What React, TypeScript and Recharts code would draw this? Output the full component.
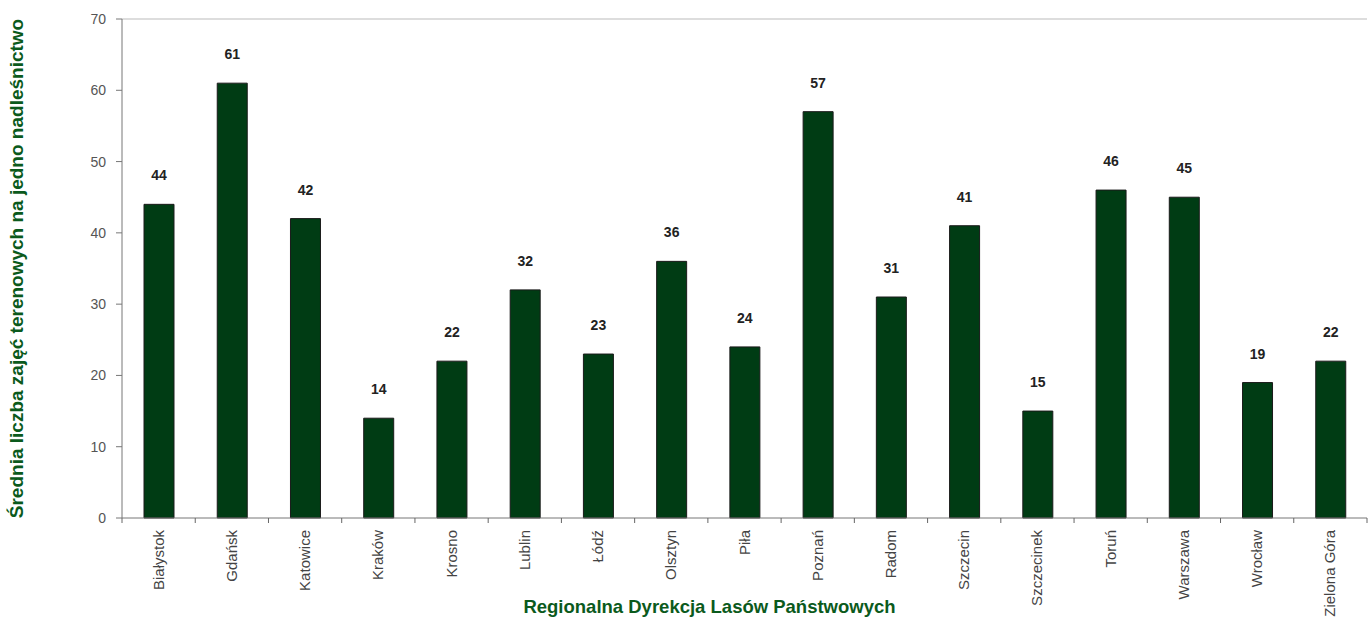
import { BarChart, Bar, XAxis, YAxis, LabelList, ReferenceLine } from 'recharts'

const regions = [
  'Białystok', 'Gdańsk', 'Katowice', 'Kraków', 'Krosno', 'Lublin', 'Łódź', 'Olsztyn', 'Piła',
  'Poznań', 'Radom', 'Szczecin', 'Szczecinek', 'Toruń', 'Warszawa', 'Wrocław', 'Zielona Góra',
]
const avgClasses = [44, 61, 42, 14, 22, 32, 23, 36, 24, 57, 31, 41, 15, 46, 45, 19, 22]
const yTicks = [0, 10, 20, 30, 40, 50, 60, 70]

const data = regions.map((rdlp, i) => ({ rdlp, value: avgClasses[i] }))

const W = 1369
const H = 620
const MARGIN = { top: 19, right: 2, left: 0, bottom: 0 }
const Y_AXIS_W = 122
const BAND = (W - MARGIN.left - MARGIN.right - Y_AXIS_W) / regions.length
const FONT = 'Arial, "Liberation Sans", sans-serif'
const GREEN = '#0b5a1c'

const XTick = ({ x, y, payload, index }: any) => {
  const axisY = y - 12
  return (
    <g>
      <line x1={x - BAND / 2} x2={x - BAND / 2} y1={axisY} y2={axisY + 5} stroke="#666" />
      {index === regions.length - 1 && (
        <line x1={x + BAND / 2} x2={x + BAND / 2} y1={axisY} y2={axisY + 5} stroke="#666" />
      )}
      <text
        x={x}
        y={y}
        transform={`rotate(-90, ${x}, ${y})`}
        textAnchor="end"
        dy={5}
        fontSize={15}
        fill="#444"
        fontFamily={FONT}
      >
        {payload.value}
      </text>
    </g>
  )
}

const XTitle = ({ viewBox }: any) => (
  <text
    x={viewBox.x + viewBox.width / 2 - 35}
    y={viewBox.y + viewBox.height - 7}
    textAnchor="middle"
    fill={GREEN}
    fontWeight="bold"
    fontSize={18.5}
    fontFamily={FONT}
  >
    Regionalna Dyrekcja Lasów Państwowych
  </text>
)

export default function App() {
  return (
    <div style={{ position: 'absolute', left: 0, top: 0, width: W, height: H, background: '#fff' }}>
      <BarChart width={W} height={H} data={data} margin={MARGIN}>
        <XAxis
          dataKey="rdlp"
          height={102}
          interval={0}
          tick={<XTick />}
          tickLine={false}
          tickSize={6}
          tickMargin={6}
          axisLine={{ stroke: '#777' }}
          label={<XTitle />}
        />
        <YAxis
          yAxisId="l"
          width={Y_AXIS_W}
          domain={[0, 70]}
          ticks={yTicks}
          interval={0}
          tickSize={6}
          tickMargin={10}
          tick={{ fontSize: 14, fill: '#555', fontFamily: FONT }}
          axisLine={{ stroke: '#777' }}
          tickLine={{ stroke: '#777' }}
          label={{
            value: 'Średnia liczba zajęć terenowych na jedno nadleśnictwo',
            angle: -90,
            position: 'insideLeft',
            offset: 16,
            style: { textAnchor: 'middle' },
            fill: GREEN,
            fontWeight: 'bold',
            fontSize: 19,
            fontFamily: FONT,
          }}
        />
        <YAxis
          yAxisId="r"
          orientation="right"
          width={0}
          domain={[0, 70]}
          tick={false}
          tickLine={false}
          axisLine={{ stroke: '#bbb' }}
        />
        <ReferenceLine yAxisId="l" y={70} stroke="#bbb" />
        <Bar yAxisId="l" dataKey="value" fill="#003c14" stroke="#1a1a1a" barSize={30} isAnimationActive={false}>
          <LabelList
            dataKey="value"
            position="top"
            offset={24}
            fill="#222"
            fontSize={14}
            fontWeight="bold"
            fontFamily={FONT}
          />
        </Bar>
      </BarChart>
    </div>
  )
}
